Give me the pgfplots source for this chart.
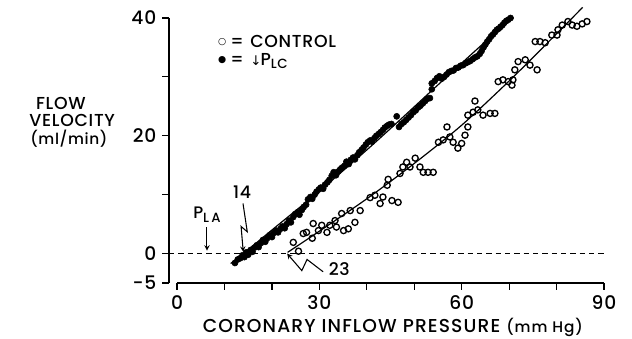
\documentclass[border=0pt]{standalone}
\usepackage{fontspec}
\setmainfont{Poppins}[UprightFont=* Medium, LetterSpace=4]
\newfontfamily\dejavu{DejaVu Sans}
\usepackage{pgfplots}
\pgfplotsset{compat=1.18}
\pgfplotstableread{
x y
12.2 -1.6
12.8 -1.0
13.3 -0.8
13.8 -0.3
14.2 -0.6
14.6 0.2
15.0 -0.2
15.5 0.6
15.9 0.3
16.3 1.0
16.8 1.4
17.2 1.1
17.7 1.8
18.1 2.3
18.6 2.0
19.0 2.6
19.5 3.1
20.0 2.8
20.4 3.5
20.9 3.9
21.3 3.6
21.8 4.2
22.2 4.6
22.7 4.3
23.1 5.0
23.6 5.6
24.0 5.3
24.5 6.2
24.9 6.7
25.4 7.0
25.8 6.6
26.3 7.4
26.7 7.9
27.2 8.3
27.6 9.2
28.1 9.6
28.5 9.3
29.0 10.0
29.4 10.5
29.9 10.9
30.3 11.2
30.8 11.0
31.2 11.7
31.7 12.1
32.1 12.5
32.6 13.2
33.0 13.8
33.5 13.3
33.9 13.9
34.4 14.3
34.8 14.6
35.3 14.9
35.7 15.6
36.2 15.2
36.6 15.9
37.1 16.3
37.5 16.0
38.0 16.7
38.4 17.2
38.9 17.6
39.3 18.0
39.8 18.5
40.2 18.9
40.7 19.2
41.1 19.0
41.6 19.6
42.0 20.0
42.5 20.3
42.9 20.6
43.4 21.0
43.8 21.4
44.3 21.7
44.7 21.9
45.2 22.0
46.3 23.3
46.8 21.5
47.3 22.0
47.8 22.3
48.3 22.7
48.8 23.1
49.3 23.5
49.8 24.0
50.3 24.3
50.8 24.8
51.3 25.1
51.8 25.5
52.3 25.9
52.8 26.3
53.3 26.4
53.7 27.9
53.7 28.9
54.3 29.3
54.8 29.8
55.3 30.1
55.8 29.7
56.3 30.0
56.8 30.4
57.3 30.8
57.8 31.0
58.3 31.1
58.8 31.5
59.3 31.6
59.8 31.9
60.3 32.0
60.8 32.3
61.3 32.5
61.8 32.7
62.3 33.0
62.8 33.3
63.3 33.5
63.8 33.9
64.2 34.4
64.6 35.0
65.0 35.5
65.4 36.0
65.8 36.4
66.2 36.9
66.6 37.2
67.0 37.6
67.4 38.0
67.8 38.2
68.2 38.5
68.6 38.8
69.0 39.2
69.4 39.5
69.8 39.7
70.3 40.0
}\lowpdata
\pgfplotstableread{
x y
24.5 1.9
25.6 0.4
26.6 3.4
27.3 3.6
28.5 2.6
28.7 5.1
29.8 3.9
30.5 4.8
31.6 3.6
32.2 4.8
33.3 5.6
33.6 4.5
34.7 6.8
35.1 3.9
36.1 4.2
36.5 7.3
37.5 5.3
38.6 7.3
40.7 9.5
41.7 9.9
42.8 8.5
43.4 9.6
44.3 11.6
44.5 12.6
45.3 9.0
46.6 8.7
47.0 13.6
47.6 14.7
48.4 15.5
49.1 14.7
50.2 16.2
51.2 14.7
51.9 13.8
52.9 13.8
54.0 13.8
55.1 18.9
56.1 19.3
56.9 21.5
57.5 19.8
58.2 18.9
59.2 17.9
60.0 18.7
60.7 20.1
61.3 21.5
61.3 23.5
62.4 24.0
62.8 25.9
63.4 24.4
64.5 23.5
66.0 23.8
67.0 23.8
67.7 29.2
68.7 29.5
69.8 29.2
70.6 28.6
70.8 29.5
71.2 31.2
71.9 32.6
73.4 32.9
74.4 32.0
75.9 31.2
75.5 36.0
76.5 36.0
77.6 35.8
79.0 37.1
80.1 37.1
80.3 38.0
81.2 38.8
82.4 39.4
83.3 38.8
84.3 38.6
85.4 39.0
86.4 39.4
}\controldata
\begin{document}
\begin{tikzpicture}
\useasboundingbox (-126.75pt,-42pt) rectangle (347.25pt,212.25pt);
\begin{axis}[
  at={(0pt,0pt)}, anchor=south west,
  scale only axis, width=326.25pt, height=198.75pt,
  xmin=-1.7, xmax=90, ymin=-5, ymax=40,
  axis x line*=bottom, axis y line*=left,
  axis line style={draw=none},
  tick align=outside,
  major tick length=5pt, minor tick length=5pt,
  xtick={0,30,60,90}, minor xtick={10,20,40,50,70,80},
  ytick={-5,0,20,40}, minor ytick={10,30},
  tick style={black, line width=0.9pt},
  ticklabel style={font=\fontsize{14}{16}\selectfont},
  yticklabel style={xshift=-1pt},
  xticklabel style={yshift=-1pt},
  /pgf/number format/assume math mode=true,
  clip=false,
]
\draw[line width=0.9pt] (axis cs:-1.7,40) -- (axis cs:-1.7,-5);
\draw[line width=0.9pt] (axis cs:0,-5) -- (axis cs:90,-5);
\addplot[black, dash pattern=on 4pt off 3pt, line width=0.7pt] coordinates {(-1.7,0) (90,0)};
\addplot[only marks, mark=*, mark size=2.3pt, black] table {\lowpdata};
\addplot[only marks, mark=o, mark size=2.3pt, black, mark options={line width=1pt, fill=white}] table {\controldata};
\addplot[black, line width=0.9pt, smooth] coordinates {(11.3,-1.7) (14,0) (20,4.0) (30,10.6) (40,17.6) (47,22.7) (54,27.9) (62,33.8) (70.8,40.2)};
\addplot[black, line width=0.9pt, smooth] coordinates {(23.3,0.2) (30,3.8) (40,9.3) (50,15.3) (60,21.8) (70,29.3) (78,35.7) (85.5,41.8)};
% annotations
\node[anchor=west, font=\fontsize{13}{14}\selectfont, inner sep=0pt] at (axis cs:8.6,36.0) {\raisebox{0.3ex}{\dejavu\fontsize{7}{8}\selectfont ○}\hspace{3pt}=\hspace{5pt}CONTROL};
\node[anchor=west, font=\fontsize{13}{14}\selectfont, inner sep=0pt] at (axis cs:8.6,32.7) {\raisebox{0.3ex}{\dejavu\fontsize{7}{8}\selectfont ●}\hspace{3pt}=\hspace{5pt}{\dejavu\fontsize{10}{10}\selectfont ↓}\kern-0.05em P{\fontsize{10}{10}\selectfont\raisebox{-0.35ex}{LC}}};
\node[font=\fontsize{13}{14}\selectfont, inner sep=0pt] at (axis cs:-24.5,25.5) {FLOW};
\node[font=\fontsize{13}{14}\selectfont, inner sep=0pt] at (axis cs:-22.1,22.6) {VELOCITY};
\node[font=\fontsize{11.5}{12}\selectfont, inner sep=0pt] at (axis cs:-22.8,19.5) {(ml/min)};
\node[font=\fontsize{14}{15}\selectfont] at (axis cs:45.5,-12.6) {\addfontfeatures{LetterSpace=6}CORONARY INFLOW PRESSURE {\fontsize{11.5}{12}\selectfont(mm Hg)}};
\node[font=\fontsize{12.5}{14}\selectfont] at (axis cs:6.3,6.6) {P{\fontsize{10}{10}\selectfont\raisebox{-0.45ex}{L\,A}}};
\draw[-stealth, line width=0.8pt] (axis cs:6.3,4.5) -- (axis cs:6.3,0.5);
\node[font=\fontsize{13}{14}\selectfont] at (axis cs:13.7,10.4) {14};
\draw[-stealth, line width=0.8pt] (axis cs:13.9,8.5) -- (axis cs:14.8,3.7) -- (axis cs:13.5,4.6) -- (axis cs:13.95,0.3);
\node[font=\fontsize{13}{14}\selectfont] at (axis cs:34.2,-2.6) {23};
\draw[stealth-, line width=0.8pt] (axis cs:23.2,0) -- (axis cs:26.3,-2.9) -- (axis cs:27.4,-1.0) -- (axis cs:30.8,-3.1);
\end{axis}
\end{tikzpicture}
\end{document}
